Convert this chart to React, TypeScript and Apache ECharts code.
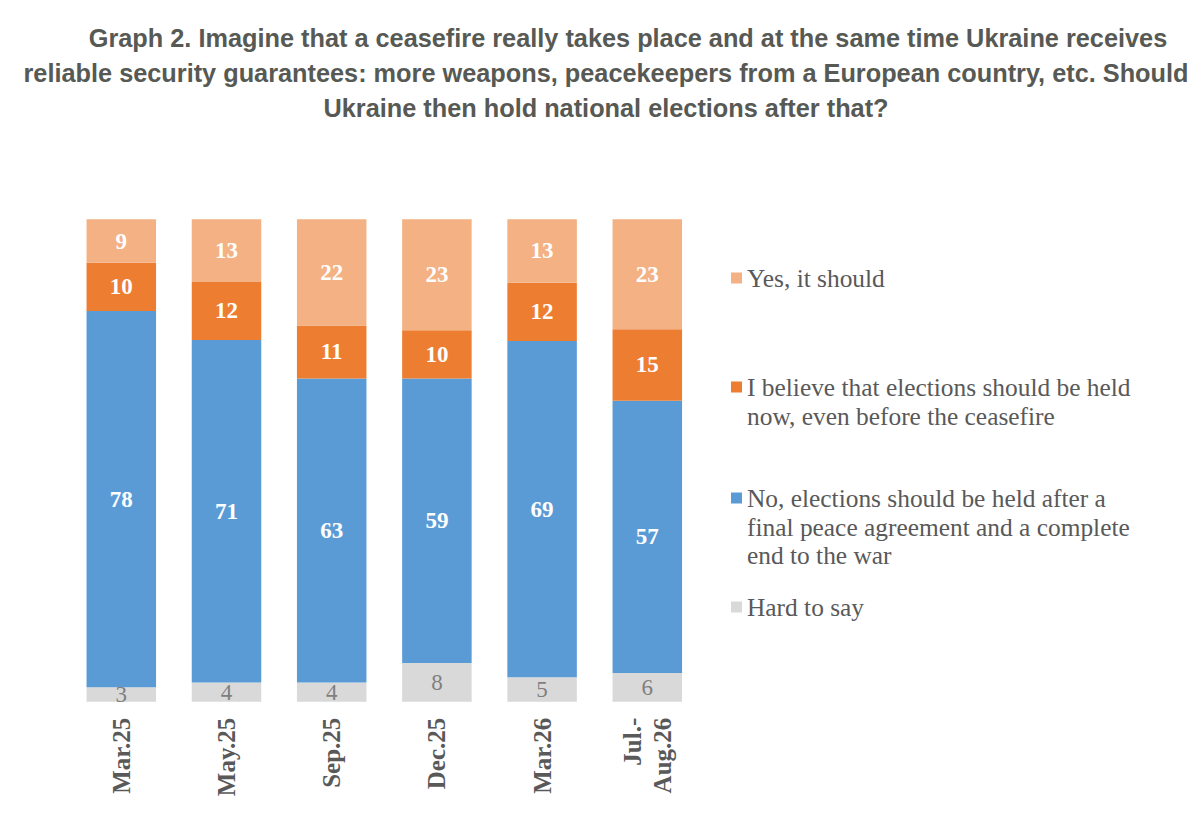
import React, { useEffect, useRef } from "react";
import * as echarts from "echarts";

const categories = ["Mar.25", "May.25", "Sep.25", "Dec.25", "Mar.26", "Jul.-\nAug.26"];
const yesValues = [9, 13, 22, 23, 13, 23];
const nowValues = [10, 12, 11, 10, 12, 15];
const afterPeaceValues = [78, 71, 63, 59, 69, 57];
const hardValues = [3, 4, 4, 8, 5, 6];

const nameYes = "Yes, it should";
const nameNow = "I believe that elections should be held\nnow, even before the ceasefire";
const nameAfter = "No, elections should be held after a\nfinal peace agreement and a complete\nend to the war";
const nameHard = "Hard to say";

const titleLine1 = "Graph 2. Imagine that a ceasefire really takes place and at the same time Ukraine receives";
const titleLine23 =
  "reliable security guarantees: more weapons, peacekeepers from a European country, etc. Should\nUkraine then hold national elections after that?";

const SERIF = "'Liberation Serif', 'Times New Roman', serif";
const SANS = "'Liberation Sans', Arial, sans-serif";
const TEXT_GREY = "#595959";

export default function App() {
  const ref = useRef<HTMLDivElement>(null);

  useEffect(() => {
    if (!ref.current) return;
    const chart = echarts.init(ref.current, undefined, { renderer: "svg" });

    const totals = categories.map(
      (_, i) => yesValues[i] + nowValues[i] + afterPeaceValues[i] + hardValues[i]
    );
    const pct = (arr: number[]) => arr.map((v, i) => (v / totals[i]) * 100);

    const LH = 28.5;
    const legendItem = (name: string, firstLineY: number) => {
      const n = name.split("\n").length;
      return {
        data: [name],
        left: 731,
        top: firstLineY - ((2 * n - 1) * LH) / 2,
        orient: "vertical",
        icon: "rect",
        itemWidth: 11,
        itemHeight: 11,
        itemGap: 0,
        padding: 0,
        selectedMode: false,
        formatter: (nm: string) => "\n".repeat(n - 1) + nm,
        textStyle: {
          fontFamily: SERIF,
          fontSize: 25.4,
          color: TEXT_GREY,
          lineHeight: LH,
        },
      };
    };

    const whiteLabel = (raw: number[]) => ({
      show: true,
      position: "inside",
      color: "#ffffff",
      fontFamily: SERIF,
      fontWeight: "bold",
      fontSize: 23,
      formatter: (p: any) => String(raw[p.dataIndex]),
    });

    const titleStyle = {
      fontFamily: SANS,
      fontWeight: "bold",
      fontSize: 25.3,
      color: "#575954",
      lineHeight: 34.5,
    };

    chart.setOption({
      animation: false,
      backgroundColor: "#ffffff",
      title: [
        {
          text: titleLine1,
          left: 628,
          top: 21,
          textAlign: "center",
          padding: 0,
          textStyle: titleStyle,
        },
        {
          text: titleLine23,
          left: 606,
          top: 56,
          textAlign: "center",
          padding: 0,
          textStyle: titleStyle,
        },
      ],
      legend: [
        legendItem(nameYes, 278),
        legendItem(nameNow, 387),
        legendItem(nameAfter, 498),
        legendItem(nameHard, 607),
      ],
      grid: { left: 68.7, right: 500.1, top: 219.3, bottom: 131.3, containLabel: false },
      xAxis: {
        type: "category",
        data: categories,
        axisLine: { show: false },
        axisTick: { show: false },
        axisLabel: {
          interval: 0,
          rotate: 90,
          margin: 16,
          fontFamily: SERIF,
          fontWeight: "bold",
          fontSize: 25,
          color: TEXT_GREY,
          lineHeight: 30,
        },
      },
      yAxis: { type: "value", min: 0, max: 100, show: false },
      series: [
        {
          name: nameHard,
          type: "bar",
          stack: "total",
          barWidth: 69.5,
          data: pct(hardValues),
          itemStyle: { color: "#D9D9D9" },
          label: {
            show: true,
            position: "inside",
            color: "#7F7F7F",
            fontFamily: SERIF,
            fontWeight: "normal",
            fontSize: 23,
            formatter: (p: any) => String(hardValues[p.dataIndex]),
          },
        },
        {
          name: nameAfter,
          type: "bar",
          stack: "total",
          barWidth: 69.5,
          data: pct(afterPeaceValues),
          itemStyle: { color: "#5B9BD5" },
          label: whiteLabel(afterPeaceValues),
        },
        {
          name: nameNow,
          type: "bar",
          stack: "total",
          barWidth: 69.5,
          data: pct(nowValues),
          itemStyle: { color: "#ED7D31" },
          label: whiteLabel(nowValues),
        },
        {
          name: nameYes,
          type: "bar",
          stack: "total",
          barWidth: 69.5,
          data: pct(yesValues),
          itemStyle: { color: "#F4B183" },
          label: whiteLabel(yesValues),
        },
      ],
    });

    return () => chart.dispose();
  }, []);

  return (
    <div
      ref={ref}
      style={{ position: "fixed", left: 0, top: 0, width: 1200, height: 833, background: "#fff" }}
    />
  );
}
